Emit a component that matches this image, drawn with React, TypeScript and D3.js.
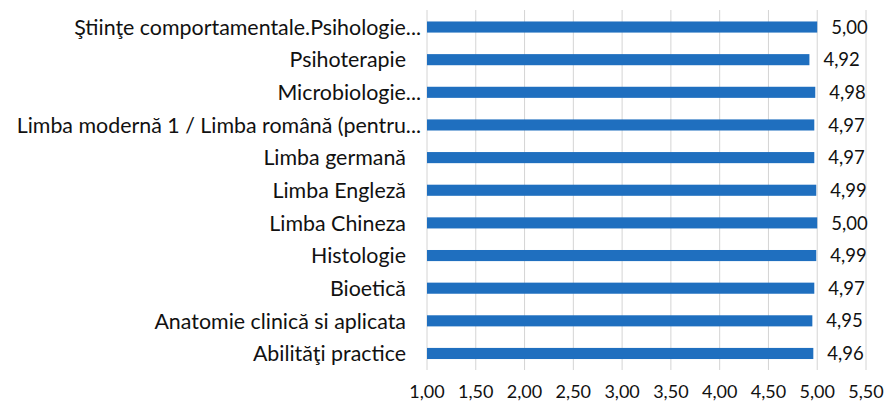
import { useEffect, useRef } from 'react';
import * as d3 from 'd3';

const categories = [
  'Ştiinţe comportamentale.Psihologie...',
  'Psihoterapie',
  'Microbiologie...',
  'Limba modernă 1 / Limba română (pentru...',
  'Limba germană',
  'Limba Engleză',
  'Limba Chineza',
  'Histologie',
  'Bioetică',
  'Anatomie clinică si aplicata',
  'Abilităţi practice',
];

const values = [5.0, 4.92, 4.98, 4.97, 4.97, 4.99, 5.0, 4.99, 4.97, 4.95, 4.96];

const xTicks = [1, 1.5, 2, 2.5, 3, 3.5, 4, 4.5, 5, 5.5];

const fmt = (v: number) => v.toFixed(2).replace('.', ',');

export default function App() {
  const ref = useRef<SVGSVGElement | null>(null);

  useEffect(() => {
    if (!ref.current) return;
    const svg = d3.select(ref.current);
    svg.selectAll('*').remove();

    const width = 891;
    const height = 412;
    const font = 'Lato, "Open Sans", sans-serif';

    const x = d3.scaleLinear().domain([1, 5.5]).range([427, 866]);
    const y = d3.scaleBand<string>()
      .domain(categories)
      .range([10.7, 369.8])
      .paddingInner(0.66)
      .paddingOuter(0.33);

    svg.attr('width', width).attr('height', height);

    svg.append('rect').attr('width', width).attr('height', height).attr('fill', '#ffffff');

    // vertical gridlines
    svg.append('g')
      .selectAll('line')
      .data(xTicks)
      .enter()
      .append('line')
      .attr('x1', d => x(d))
      .attr('x2', d => x(d))
      .attr('y1', 10)
      .attr('y2', 370)
      .attr('stroke', '#d4d4d4')
      .attr('stroke-width', 1);

    // bars
    svg.append('g')
      .selectAll('rect')
      .data(values)
      .enter()
      .append('rect')
      .attr('x', x(1))
      .attr('y', (_, i) => y(categories[i])!)
      .attr('width', d => x(d) - x(1))
      .attr('height', y.bandwidth())
      .attr('fill', '#1f6fbf');

    // value labels
    svg.append('g')
      .selectAll('text')
      .data(values)
      .enter()
      .append('text')
      .attr('x', d => x(d) + 14)
      .attr('y', (_, i) => y(categories[i])! + y.bandwidth() / 2)
      .attr('dy', '0.36em')
      .attr('font-family', font)
      .attr('font-size', 18.5)
      .attr('fill', '#111')
      .text(d => fmt(d));

    // category labels
    svg.append('g')
      .selectAll('text')
      .data(categories)
      .enter()
      .append('text')
      .attr('x', d => (d.endsWith('...') ? 421 : 406))
      .attr('y', d => y(d)! + y.bandwidth() / 2)
      .attr('dy', '0.36em')
      .attr('text-anchor', 'end')
      .attr('font-family', font)
      .attr('font-size', 21.4)
      .attr('fill', '#111')
      .text(d => d);

    // x tick labels
    svg.append('g')
      .selectAll('text')
      .data(xTicks)
      .enter()
      .append('text')
      .attr('x', d => x(d))
      .attr('y', 392)
      .attr('dy', '0.36em')
      .attr('text-anchor', 'middle')
      .attr('font-family', font)
      .attr('font-size', 18)
      .attr('fill', '#111')
      .text(d => fmt(d));
  }, []);

  return (
    <div style={{ position: 'absolute', left: 0, top: 0 }}>
      <svg ref={ref}></svg>
    </div>
  );
}
